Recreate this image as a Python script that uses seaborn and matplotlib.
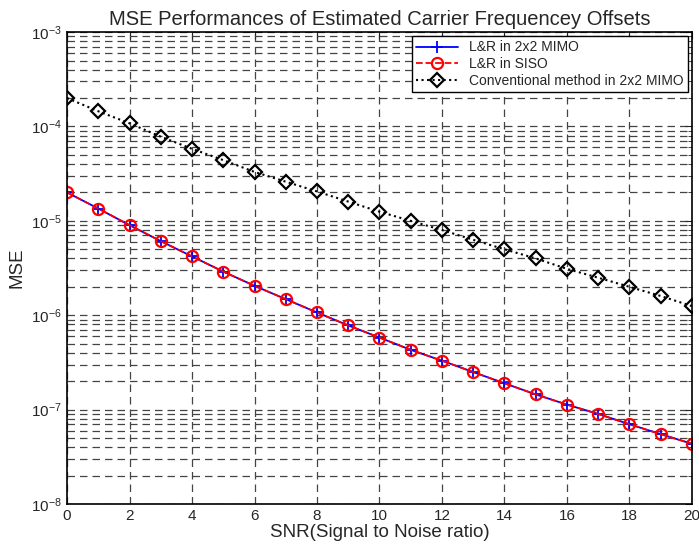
import numpy as np
import pandas as pd
import matplotlib
matplotlib.use("Agg")
import matplotlib.pyplot as plt
import seaborn as sns
from matplotlib.ticker import LogLocator, NullFormatter, FixedLocator

snr = list(range(0, 21))
lr_mimo = [2.0e-5, 1.35e-5, 9.0e-6, 6.1e-6, 4.2e-6, 2.9e-6, 2.05e-6, 1.48e-6, 1.07e-6, 7.8e-7,
           5.8e-7, 4.3e-7, 3.3e-7, 2.5e-7, 1.9e-7, 1.45e-7, 1.13e-7, 9.0e-8, 7.0e-8, 5.5e-8, 4.35e-8]
lr_siso = [2.0e-5, 1.35e-5, 9.0e-6, 6.1e-6, 4.2e-6, 2.9e-6, 2.05e-6, 1.48e-6, 1.07e-6, 7.8e-7,
           5.8e-7, 4.3e-7, 3.3e-7, 2.5e-7, 1.9e-7, 1.45e-7, 1.13e-7, 9.0e-8, 7.0e-8, 5.5e-8, 4.35e-8]
conventional = [2.0e-4, 1.45e-4, 1.08e-4, 7.8e-5, 5.8e-5, 4.4e-5, 3.3e-5, 2.6e-5, 2.05e-5, 1.6e-5,
                1.25e-5, 1.0e-5, 8.0e-6, 6.3e-6, 5.0e-6, 4.0e-6, 3.1e-6, 2.5e-6, 2.0e-6, 1.6e-6, 1.25e-6]
labels = ["L&R in 2x2 MIMO", "L&R in SISO", "Conventional method in 2x2 MIMO"]

sns.set_style("white")
plt.rcParams['font.family'] = ['Liberation Sans', 'DejaVu Sans']

fig = plt.figure(figsize=(6.99, 5.44), dpi=100)
ax = fig.add_axes([0.0959, 0.0735, 0.894, 0.8675])

df = pd.DataFrame({"snr": snr, "a": lr_mimo, "b": lr_siso, "c": conventional})

sns.lineplot(data=df, x="snr", y="a", ax=ax, color="blue", linestyle="-", lw=1.3,
             marker="+", markersize=8, markeredgewidth=1.3, markeredgecolor="blue", label=labels[0])
sns.lineplot(data=df, x="snr", y="b", ax=ax, color="red", linestyle="--", lw=1.3,
             marker="o", markersize=8, markerfacecolor="none", markeredgewidth=1.6,
             markeredgecolor="red", label=labels[1], dashes=(4, 2))
sns.lineplot(data=df, x="snr", y="c", ax=ax, color="black", linestyle=":", lw=1.5,
             marker="D", markersize=7, markerfacecolor="none", markeredgewidth=1.6,
             markeredgecolor="black", label=labels[2])

ax.set_yscale("log")
ax.set_xlim(0, 20)
ax.set_ylim(1e-8, 1e-3)
ax.xaxis.set_major_locator(FixedLocator(np.arange(0, 21, 2)))
ax.yaxis.set_major_locator(LogLocator(base=10, numticks=10))
ax.yaxis.set_minor_locator(LogLocator(base=10, subs=np.arange(2, 10), numticks=100))
ax.yaxis.set_minor_formatter(NullFormatter())

ax.grid(True, which="major", axis="both", color="#444444", linestyle=(0, (6, 4)), lw=0.9)
ax.grid(True, which="minor", axis="y", color="#444444", linestyle=(0, (6, 4)), lw=0.9)
ax.tick_params(which="both", direction="in", top=True, right=True, labelsize=11)
ax.tick_params(which="major", length=5)
ax.tick_params(which="minor", length=3)
for s in ax.spines.values():
    s.set_color("black")
    s.set_linewidth(1.2)

ax.set_title("MSE Performances of Estimated Carrier Frequencey Offsets", fontsize=14.5, pad=5)
ax.set_xlabel("SNR(Signal to Noise ratio)", fontsize=13.5, labelpad=1)
ax.set_ylabel("MSE", fontsize=13.5)

leg = ax.legend(loc="upper right", fontsize=10, frameon=True, fancybox=False,
                edgecolor="black", framealpha=1, borderpad=0.3, labelspacing=0.2,
                handlelength=3, borderaxespad=0.3)
leg.get_frame().set_linewidth(1.0)

fig.savefig("out.png", dpi=100)
